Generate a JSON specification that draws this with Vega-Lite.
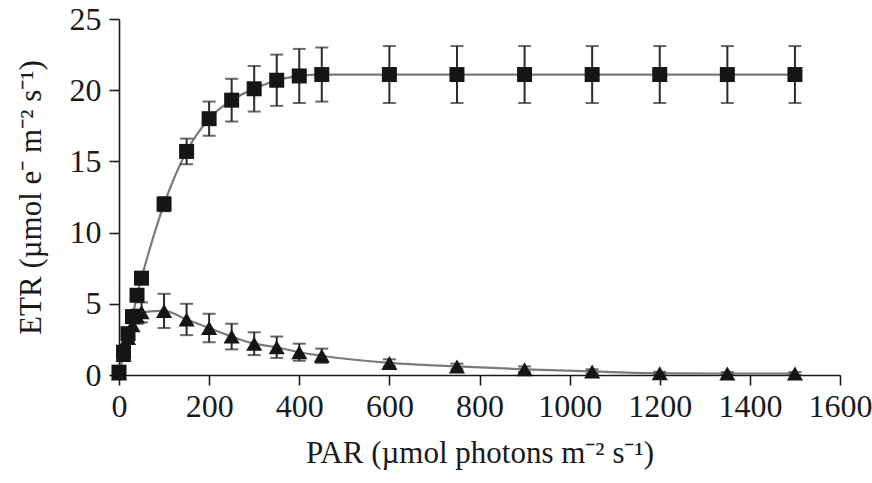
{
  "$schema": "https://vega.github.io/schema/vega-lite/v6.json",
  "width": 721,
  "height": 356,
  "autosize": {"type": "none"},
  "padding": {"left": 119, "top": 19, "right": 32, "bottom": 108},
  "background": "white",
  "config": {
    "view": {"stroke": null},
    "font": "Liberation Serif"
  },
  "data": {
    "values": [
      {"series": "A", "par": 0, "etr": 0.2, "lo": 0.1, "hi": 0.3},
      {"series": "A", "par": 10, "etr": 1.6, "lo": 1.4, "hi": 1.8},
      {"series": "A", "par": 20, "etr": 2.9, "lo": 2.7, "hi": 3.1},
      {"series": "A", "par": 30, "etr": 4.1, "lo": 3.8, "hi": 4.4},
      {"series": "A", "par": 40, "etr": 5.6, "lo": 5.3, "hi": 5.9},
      {"series": "A", "par": 50, "etr": 6.8, "lo": 6.5, "hi": 7.1},
      {"series": "A", "par": 100, "etr": 12.0, "lo": 11.5, "hi": 12.5},
      {"series": "A", "par": 150, "etr": 15.7, "lo": 14.8, "hi": 16.6},
      {"series": "A", "par": 200, "etr": 18.0, "lo": 16.8, "hi": 19.2},
      {"series": "A", "par": 250, "etr": 19.3, "lo": 17.8, "hi": 20.8},
      {"series": "A", "par": 300, "etr": 20.1, "lo": 18.5, "hi": 21.7},
      {"series": "A", "par": 350, "etr": 20.7, "lo": 18.9, "hi": 22.5},
      {"series": "A", "par": 400, "etr": 21.0, "lo": 19.1, "hi": 22.9},
      {"series": "A", "par": 450, "etr": 21.1, "lo": 19.2, "hi": 23.0},
      {"series": "A", "par": 600, "etr": 21.1, "lo": 19.1, "hi": 23.1},
      {"series": "A", "par": 750, "etr": 21.1, "lo": 19.1, "hi": 23.1},
      {"series": "A", "par": 900, "etr": 21.1, "lo": 19.1, "hi": 23.1},
      {"series": "A", "par": 1050, "etr": 21.1, "lo": 19.1, "hi": 23.1},
      {"series": "A", "par": 1200, "etr": 21.1, "lo": 19.1, "hi": 23.1},
      {"series": "A", "par": 1350, "etr": 21.1, "lo": 19.1, "hi": 23.1},
      {"series": "A", "par": 1500, "etr": 21.1, "lo": 19.1, "hi": 23.1},
      {"series": "B", "par": 0, "etr": 0.1, "lo": 0.0, "hi": 0.2},
      {"series": "B", "par": 10, "etr": 1.4, "lo": 1.2, "hi": 1.6},
      {"series": "B", "par": 20, "etr": 2.6, "lo": 2.3, "hi": 2.9},
      {"series": "B", "par": 30, "etr": 3.5, "lo": 3.1, "hi": 3.9},
      {"series": "B", "par": 40, "etr": 4.1, "lo": 3.6, "hi": 4.6},
      {"series": "B", "par": 50, "etr": 4.4, "lo": 3.7, "hi": 5.1},
      {"series": "B", "par": 100, "etr": 4.5, "lo": 3.3, "hi": 5.7},
      {"series": "B", "par": 150, "etr": 3.9, "lo": 2.8, "hi": 5.0},
      {"series": "B", "par": 200, "etr": 3.3, "lo": 2.3, "hi": 4.3},
      {"series": "B", "par": 250, "etr": 2.7, "lo": 1.8, "hi": 3.6},
      {"series": "B", "par": 300, "etr": 2.2, "lo": 1.4, "hi": 3.0},
      {"series": "B", "par": 350, "etr": 1.95, "lo": 1.2, "hi": 2.7},
      {"series": "B", "par": 400, "etr": 1.6, "lo": 1.0, "hi": 2.2},
      {"series": "B", "par": 450, "etr": 1.35, "lo": 0.85, "hi": 1.85},
      {"series": "B", "par": 600, "etr": 0.85, "lo": 0.6, "hi": 1.1},
      {"series": "B", "par": 750, "etr": 0.6, "lo": 0.4, "hi": 0.8},
      {"series": "B", "par": 900, "etr": 0.4, "lo": 0.2, "hi": 0.6},
      {"series": "B", "par": 1050, "etr": 0.25, "lo": 0.1, "hi": 0.4},
      {"series": "B", "par": 1200, "etr": 0.12, "lo": 0.02, "hi": 0.22},
      {"series": "B", "par": 1350, "etr": 0.1, "lo": 0.0, "hi": 0.2},
      {"series": "B", "par": 1500, "etr": 0.1, "lo": 0.0, "hi": 0.2}
    ]
  },
  "encoding": {
    "x": {"field": "par", "type": "quantitative", "scale": {"domain": [0, 1600], "nice": false, "zero": false},
      "axis": {"values": [0, 200, 400, 600, 800, 1000, 1200, 1400, 1600], "format": "d", "title": "PAR (µmol photons m⁻² s⁻¹)",
        "grid": false, "domainColor": "#1a1a1a", "domainWidth": 1.6, "tickColor": "#1a1a1a", "tickWidth": 1.6, "tickSize": 10,
        "labelFont": "Liberation Serif", "labelFontSize": 32, "labelColor": "#1a1a1a", "labelPadding": 6, "labelFlush": false,
        "titleFont": "Liberation Serif", "titleFontSize": 31, "titleFontWeight": "normal", "titleColor": "#1a1a1a", "titlePadding": 16}}
  },
  "layer": [
    {
      "mark": {"type": "line", "interpolate": "monotone", "color": "#7a7a7a", "strokeWidth": 2.2},
      "encoding": {
        "y": {"field": "etr", "type": "quantitative", "scale": {"domain": [0, 25], "nice": false},
          "axis": {"values": [0, 5, 10, 15, 20, 25], "title": "ETR (µmol e⁻ m⁻² s⁻¹)",
            "grid": false, "domainColor": "#1a1a1a", "domainWidth": 1.6, "tickColor": "#1a1a1a", "tickWidth": 1.6, "tickSize": 10,
            "labelFont": "Liberation Serif", "labelFontSize": 32, "labelColor": "#1a1a1a", "labelPadding": 8, "labelFlush": false,
            "titleFont": "Liberation Serif", "titleFontSize": 31, "titleFontWeight": "normal", "titleColor": "#1a1a1a", "titlePadding": 22}},
        "detail": {"field": "series"}
      }
    },
    {
      "mark": {"type": "errorbar", "ticks": {"size": 13, "thickness": 2, "color": "#2a2a2a"}, "thickness": 2, "color": "#2a2a2a"},
      "encoding": {
        "y": {"field": "lo", "type": "quantitative", "title": "ETR (µmol e⁻ m⁻² s⁻¹)"},
        "y2": {"field": "hi"},
        "detail": {"field": "series"}
      }
    },
    {
      "mark": {"type": "point", "filled": true, "opacity": 1, "color": "#151515"},
      "encoding": {
        "y": {"field": "etr", "type": "quantitative", "title": "ETR (µmol e⁻ m⁻² s⁻¹)"},
        "shape": {"field": "series", "type": "nominal", "scale": {"domain": ["A", "B"], "range": ["square", "triangle-up"]}, "legend": null},
        "size": {"field": "series", "type": "nominal", "scale": {"domain": ["A", "B"], "range": [225, 260]}, "legend": null}
      }
    }
  ]
}
